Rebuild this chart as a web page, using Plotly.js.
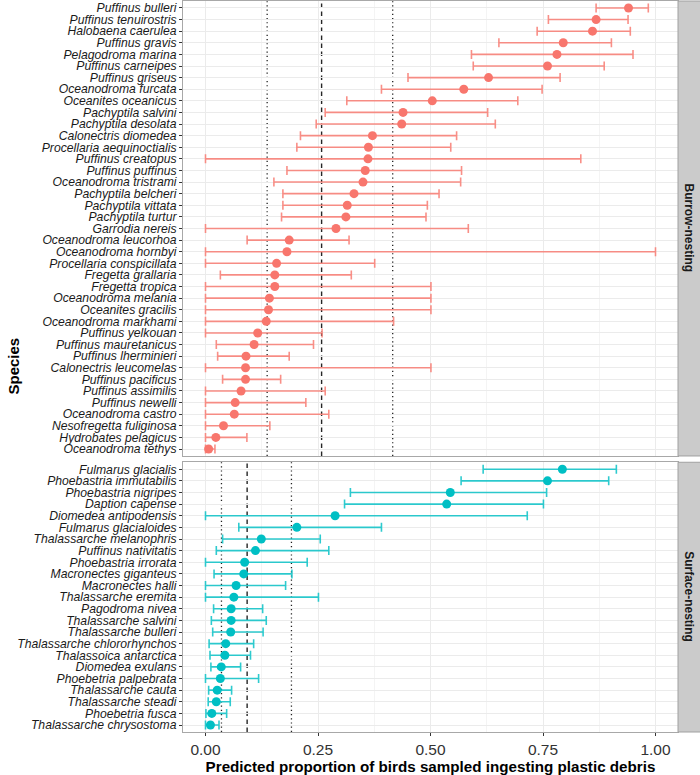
<!DOCTYPE html>
<html>
<head>
<meta charset="utf-8">
<script src="https://cdn.plot.ly/plotly-3.0.1.min.js"></script>
<style>html,body{margin:0;padding:0;background:#fff;}#chart{width:700px;height:775px;}</style>
</head>
<body>
<div id="chart"></div>
<script>
// Burrow-nesting species
const burrowSpecies = ["Puffinus bulleri","Puffinus tenuirostris","Halobaena caerulea","Puffinus gravis","Pelagodroma marina","Puffinus carneipes","Puffinus griseus","Oceanodroma furcata","Oceanites oceanicus","Pachyptila salvini","Pachyptila desolata","Calonectris diomedea","Procellaria aequinoctialis","Puffinus creatopus","Puffinus puffinus","Oceanodroma tristrami","Pachyptila belcheri","Pachyptila vittata","Pachyptila turtur","Garrodia nereis","Oceanodroma leucorhoa","Oceanodroma hornbyi","Procellaria conspicillata","Fregetta grallaria","Fregetta tropica","Oceanodroma melania","Oceanites gracilis","Oceanodroma markhami","Puffinus yelkouan","Puffinus mauretanicus","Puffinus lherminieri","Calonectris leucomelas","Puffinus pacificus","Puffinus assimilis","Puffinus newelli","Oceanodroma castro","Nesofregetta fuliginosa","Hydrobates pelagicus","Oceanodroma tethys"];
const burrowEstimate = [0.940,0.868,0.860,0.795,0.781,0.760,0.629,0.574,0.504,0.439,0.436,0.371,0.362,0.361,0.355,0.350,0.330,0.315,0.312,0.290,0.186,0.181,0.158,0.154,0.154,0.142,0.140,0.135,0.116,0.108,0.090,0.089,0.089,0.079,0.066,0.064,0.040,0.023,0.007];
const burrowLower = [0.868,0.762,0.737,0.652,0.591,0.595,0.450,0.391,0.314,0.266,0.246,0.211,0.203,0.000,0.181,0.152,0.172,0.172,0.169,0.000,0.0925,0.000,0.000,0.033,0.000,0.000,0.000,0.000,0.000,0.024,0.027,0.000,0.038,0.000,0.000,0.000,0.000,0.000,0.000];
const burrowUpper = [0.984,0.939,0.944,0.902,0.950,0.886,0.788,0.748,0.694,0.627,0.644,0.558,0.545,0.834,0.569,0.567,0.519,0.493,0.490,0.584,0.319,1.000,0.376,0.324,0.501,0.501,0.501,0.418,0.259,0.240,0.186,0.501,0.167,0.266,0.223,0.274,0.143,0.092,0.021];
const burrowRefLines = [0.137, 0.258, 0.416];

// Surface-nesting species
const surfaceSpecies = ["Fulmarus glacialis","Phoebastria immutabilis","Phoebastria nigripes","Daption capense","Diomedea antipodensis","Fulmarus glacialoides","Thalassarche melanophris","Puffinus nativitatis","Phoebastria irrorata","Macronectes giganteus","Macronectes halli","Thalassarche eremita","Pagodroma nivea","Thalassarche salvini","Thalassarche bulleri","Thalassarche chlororhynchos","Thalassoica antarctica","Diomedea exulans","Phoebetria palpebrata","Thalassarche cauta","Thalassarche steadi","Phoebetria fusca","Thalassarche chrysostoma"];
const surfaceEstimate = [0.793,0.760,0.544,0.536,0.288,0.203,0.124,0.111,0.087,0.085,0.068,0.063,0.057,0.057,0.056,0.045,0.043,0.035,0.033,0.026,0.024,0.014,0.011];
const surfaceLower = [0.617,0.568,0.322,0.309,0.000,0.074,0.038,0.024,0.000,0.019,0.000,0.000,0.018,0.013,0.016,0.008,0.010,0.012,0.000,0.007,0.006,0.001,0.000];
const surfaceUpper = [0.913,0.896,0.758,0.751,0.715,0.391,0.255,0.274,0.226,0.192,0.178,0.251,0.127,0.135,0.128,0.107,0.100,0.078,0.118,0.058,0.055,0.047,0.030];
const surfaceRefLines = [0.0355, 0.0925, 0.191];

const facetLabels = ["Burrow-nesting", "Surface-nesting"];
const xTicks = [0, 0.25, 0.5, 0.75, 1.0];
const xTickText = ["0.00", "0.25", "0.50", "0.75", "1.00"];

const FONT = "Liberation Sans, Arial, Helvetica, sans-serif";
const RED = "#F8766D", TEAL = "#00BFC4";

function makeTrace(sp, est, lo, hi, color, barColor, xa, ya) {
  return {
    type: "scatter", mode: "markers",
    x: est, y: sp, xaxis: xa, yaxis: ya,
    marker: {color: color, size: 9, line: {width: 0}},
    error_x: {
      type: "data", symmetric: false,
      array: hi.map((h, i) => h - est[i]),
      arrayminus: lo.map((l, i) => est[i] - l),
      color: barColor, thickness: 1.6, width: 4.5
    },
    hoverinfo: "x+y", showlegend: false
  };
}

const traces = [
  makeTrace(burrowSpecies, burrowEstimate, burrowLower, burrowUpper, RED, "rgba(248,118,109,0.82)", "x", "y"),
  makeTrace(surfaceSpecies, surfaceEstimate, surfaceLower, surfaceUpper, TEAL, "rgba(0,191,196,0.82)", "x2", "y2")
];

const topDom = [0.3776, 1];
const botDom = [0, 0.369];

const xCommon = {
  range: [-0.05, 1.05], showgrid: true, gridcolor: "#ebebeb", gridwidth: 1,
  minor: {showgrid: true, gridcolor: "#f4f4f4", gridwidth: 1, dtick: 0.125, tick0: 0.125},
  tickmode: "array", tickvals: xTicks, ticktext: xTickText,
  zeroline: false, showline: true, mirror: true, linecolor: "#a8a8a8", linewidth: 1,
  fixedrange: true
};

function yAxis(sp, dom, anchor) {
  return {
    domain: dom, anchor: anchor, type: "category",
    categoryorder: "array", categoryarray: sp,
    range: [sp.length - 0.4, -0.6],
    tickmode: "array", tickvals: sp, ticktext: sp,
    tickfont: {family: FONT, size: 12.2, color: "#1a1a1a", style: "italic"},
    ticks: "outside", ticklen: 3, tickcolor: "#333", tickwidth: 1,
    showgrid: true, gridcolor: "#ebebeb", gridwidth: 1,
    zeroline: false, showline: true, mirror: true, linecolor: "#a8a8a8", linewidth: 1,
    automargin: false, fixedrange: true
  };
}

const shapes = [];
function addRefLines(vals, xref, yref) {
  const dashes = ["1.2px,3px", "4.5px,3.5px", "1.2px,3px"];
  vals.forEach((v, i) => {
    shapes.push({type: "line", layer: "below", xref: xref, yref: yref + " domain",
      x0: v, x1: v, y0: 0, y1: 1,
      line: {color: i === 1 ? "#262626" : "#222", width: i === 1 ? 1.4 : 1.3, dash: dashes[i]}});
  });
}
addRefLines(burrowRefLines, "x", "y");
addRefLines(surfaceRefLines, "x2", "y2");

// facet strips
[topDom, botDom].forEach(d => {
  shapes.push({type: "rect", xref: "paper", yref: "paper", x0: 1.0, x1: 1.06, y0: d[0], y1: d[1],
    fillcolor: "#cbcbcb", line: {color: "#a0a0a0", width: 1}, layer: "above"});
});

const annotations = [
  {text: "<b>" + facetLabels[0] + "</b>", xref: "paper", yref: "paper", x: 1.0222, y: (topDom[0] + topDom[1]) / 2,
   textangle: 90, showarrow: false, font: {family: FONT, size: 12, color: "#1a1a1a"}, xanchor: "center", yanchor: "middle"},
  {text: "<b>" + facetLabels[1] + "</b>", xref: "paper", yref: "paper", x: 1.0222, y: (botDom[0] + botDom[1]) / 2,
   textangle: 90, showarrow: false, font: {family: FONT, size: 12, color: "#1a1a1a"}, xanchor: "center", yanchor: "middle"},
  {text: "<b>Species</b>", xref: "paper", yref: "paper", x: -0.3434, y: 0.5, textangle: -90,
   showarrow: false, font: {family: FONT, size: 15, color: "#000"}, xanchor: "center", yanchor: "middle"}
];

const layout = {
  width: 700, height: 775,
  margin: {l: 183, r: 22, t: 1, b: 43},
  paper_bgcolor: "#ffffff", plot_bgcolor: "#ffffff",
  font: {family: FONT, color: "#1a1a1a"},
  showlegend: false,
  xaxis: Object.assign({}, xCommon, {anchor: "y", showticklabels: false, ticks: ""}),
  xaxis2: Object.assign({}, xCommon, {anchor: "y2", matches: "x",
    ticks: "outside", ticklen: 3, tickcolor: "#333",
    tickfont: {family: FONT, size: 15.5, color: "#333"},
    title: {text: "<b>Predicted proportion of birds sampled ingesting plastic debris</b>",
      font: {family: FONT, size: 15.2, color: "#000"}, standoff: 4}}),
  yaxis: yAxis(burrowSpecies, topDom, "x"),
  yaxis2: yAxis(surfaceSpecies, botDom, "x2"),
  shapes: shapes,
  annotations: annotations
};

Plotly.newPlot("chart", traces, layout, {displayModeBar: false, staticPlot: true});
</script>
</body>
</html>
